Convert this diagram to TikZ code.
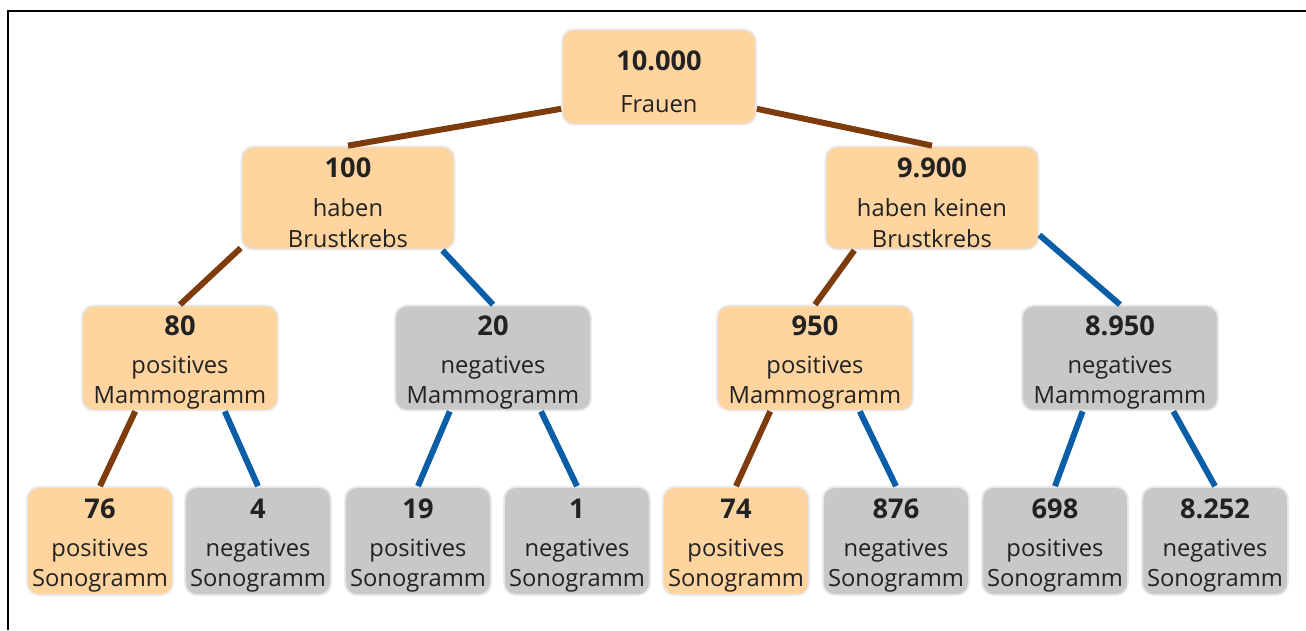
\documentclass[tikz,border=0pt]{standalone}
\usepackage{fontspec}
\setmainfont{Open Sans}
\usepackage{tikz}
\definecolor{orangec}{HTML}{FFD49E}
\definecolor{greyc}{HTML}{C8C8C8}
\definecolor{rimc}{HTML}{E8E8E8}
\definecolor{brownc}{HTML}{7E3B0C}
\definecolor{bluec}{HTML}{0A5EA8}
\definecolor{inkc}{HTML}{222222}
\newcommand{\zahl}[1]{{\fontsize{15.5}{17}\bfseries\rule{0pt}{16.5pt}#1}}

\begin{document}
\begin{tikzpicture}[x=0.02cm, y=-0.02cm,
    box/.style={rounded corners=0.24cm, draw=rimc, line width=1pt, align=center, inner sep=0pt,
      text=inkc, font=\fontsize{13.5}{17.5}\selectfont},
    posbox/.style={box, fill=orangec},
    negbox/.style={box, fill=greyc},
    rootbox/.style={minimum width=3.88cm, minimum height=1.9cm},
    lvla/.style={minimum width=4.26cm, minimum height=2.06cm},
    lvlb/.style={minimum width=3.92cm, minimum height=2.1cm},
    lvlc/.style={minimum width=2.92cm, minimum height=2.16cm},
    ja/.style={brownc, line width=3.4pt},
    nein/.style={bluec, line width=3.4pt}]
    \useasboundingbox (0,0) rectangle (1306,630);
    \draw[line width=1pt] (8,630) -- (8,11) -- (1306,11);
    % Wurzel und erste Ebene
    \node[posbox, rootbox] (frauen) at (659,77) {\zahl{10.000}\\[6.5pt]Frauen};
    \node[posbox, lvla] (krebs) at (348,198) {\zahl{100}\\[4.5pt]haben\\Brustkrebs};
    \node[posbox, lvla] (gesund) at (932,198) {\zahl{9.900}\\[4.5pt]haben keinen\\Brustkrebs};
    % Mammogramm
    \node[posbox, lvlb] (kpos) at (180,358) {\zahl{80}\\[4pt]positives\\Mammogramm};
    \node[negbox, lvlb] (kneg) at (493,358) {\zahl{20}\\[4pt]negatives\\Mammogramm};
    \node[posbox, lvlb] (gpos) at (815,358) {\zahl{950}\\[4pt]positives\\Mammogramm};
    \node[negbox, lvlb] (gneg) at (1120,358) {\zahl{8.950}\\[4pt]negatives\\Mammogramm};
    % Sonogramm
    \node[posbox, lvlc] (s1) at (100,541) {\zahl{76}\\[4pt]positives\\Sonogramm};
    \node[negbox, lvlc] (s2) at (258,541) {\zahl{4}\\[4pt]negatives\\Sonogramm};
    \node[negbox, lvlc] (s3) at (418,541) {\zahl{19}\\[4pt]positives\\Sonogramm};
    \node[negbox, lvlc] (s4) at (577,541) {\zahl{1}\\[4pt]negatives\\Sonogramm};
    \node[posbox, lvlc] (s5) at (736,541) {\zahl{74}\\[4pt]positives\\Sonogramm};
    \node[negbox, lvlc] (s6) at (896,541) {\zahl{876}\\[4pt]negatives\\Sonogramm};
    \node[negbox, lvlc] (s7) at (1055,541) {\zahl{698}\\[4pt]positives\\Sonogramm};
    \node[negbox, lvlc] (s8) at (1215,541) {\zahl{8.252}\\[4pt]negatives\\Sonogramm};
    % Verbindungen
    \draw[ja] (frauen.198) -- (krebs.north);
    \draw[ja] (frauen.342) -- (gesund.north);
    \draw[ja] (krebs.205) -- (kpos.north);
    \draw[nein] (krebs.331) -- (kneg.north);
    \draw[ja] (gesund.214) -- (gpos.north);
    \draw[nein] (gesund.341) -- (gneg.north);
    \draw[ja] (kpos.230) -- (s1.north);
    \draw[nein] (kpos.310) -- (s2.north);
    \draw[nein] (kneg.231) -- (s3.north);
    \draw[nein] (kneg.312) -- (s4.north);
    \draw[ja] (gpos.230) -- (s5.north);
    \draw[nein] (gpos.310) -- (s6.north);
    \draw[nein] (gneg.235) -- (s7.north);
    \draw[nein] (gneg.315) -- (s8.north);
\end{tikzpicture}
\end{document}
